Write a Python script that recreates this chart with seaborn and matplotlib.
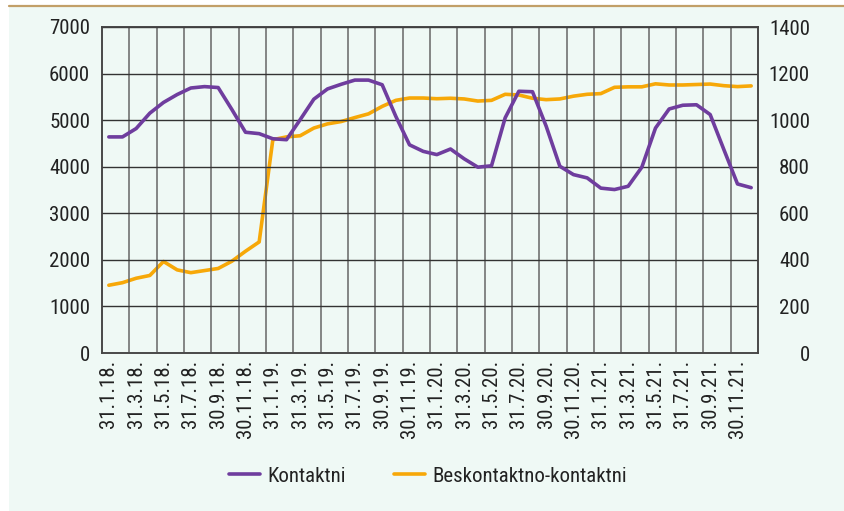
import matplotlib
matplotlib.use("Agg")
import matplotlib.pyplot as plt
import seaborn as sns
import numpy as np
import pandas as pd
from matplotlib.lines import Line2D

# ---------------- data ----------------
months = [f"{m}.{y}" for y in (18, 19, 20, 21) for m in range(1, 13)]
tick_labels = [f"{d}.{m}.{y}." for y in (18, 19, 20, 21)
               for d, m in ((31, 1), (31, 3), (31, 5), (31, 7), (30, 9), (30, 11))]

kontaktni = [4640, 4640, 4820, 5150, 5380, 5550, 5690, 5720, 5700, 5230, 4740, 4710,
             4600, 4580, 5010, 5450, 5670, 5770, 5860, 5860, 5760, 5080, 4470, 4330,
             4260, 4380, 4170, 3990, 4020, 5050, 5620, 5610, 4870, 4010, 3830, 3760,
             3540, 3510, 3580, 3990, 4830, 5240, 5320, 5330, 5120, 4370, 3630, 3550]

beskontaktno = [291, 302, 321, 333, 393, 357, 345, 354, 363, 394, 437, 477,
                916, 928, 933, 966, 984, 994, 1011, 1027, 1059, 1085, 1095, 1095,
                1092, 1094, 1091, 1082, 1085, 1111, 1108, 1094, 1088, 1091, 1103, 1111,
                1114, 1141, 1143, 1143, 1156, 1151, 1151, 1153, 1155, 1148, 1144, 1147]

series_names = ["Kontaktni", "Beskontaktno-kontaktni"]
colors = ["#6f3d9e", "#f7a808"]

df = pd.DataFrame({"idx": np.arange(len(months)), "month": months,
                   "k": kontaktni, "b": beskontaktno})

# ---------------- style ----------------
sns.set_theme(style="white")
bg = "#eff9f5"
plt.rcParams["font.family"] = ["Roboto Condensed", "Archivo Narrow", "Liberation Sans", "DejaVu Sans"]
FS = 15
txt = "#222222"

fig = plt.figure(figsize=(8.45, 5.11), dpi=100)
fig.patch.set_facecolor("white")
# mint panel + tan top rule
fig.patches.append(plt.Rectangle((9 / 845, 0), 1 - 9 / 845, 1 - 7 / 511,
                                 transform=fig.transFigure, facecolor=bg,
                                 edgecolor="none", zorder=-10))
fig.lines.append(Line2D([9 / 845, 1], [1 - 6 / 511, 1 - 6 / 511],
                        transform=fig.transFigure, color="#c29f68", lw=1.6))

ax = fig.add_axes([102 / 845, 1 - 353 / 511, 656 / 845, 326 / 511])
ax.set_facecolor(bg)
ax2 = ax.twinx()

sns.lineplot(data=df, x="idx", y="k", ax=ax, color=colors[0], lw=2.6, zorder=3)
sns.lineplot(data=df, x="idx", y="b", ax=ax2, color=colors[1], lw=2.6, zorder=3)

n = len(months)
ax.set_xlim(-0.5, n - 0.5)
ax.set_ylim(0, 7000)
ax2.set_ylim(0, 1400)
ax.set_yticks(np.arange(0, 7001, 1000))
ax2.set_yticks(np.arange(0, 1401, 200))

# vertical grid at category boundaries (every 2 months)
for xb in np.arange(-0.5, n - 0.5, 2):
    ax.axvline(xb, color="#666666", lw=1.1, zorder=1)
for yv in np.arange(1000, 7001, 1000):
    ax.axhline(yv, color="#333333", lw=1.0, zorder=1)

ax.set_xticks(np.arange(0, n, 2))
ax.set_xticklabels(tick_labels, rotation=90, fontsize=FS, color=txt)
ax.tick_params(axis="x", length=0, pad=5)
ax.tick_params(axis="y", length=0, pad=8.6, labelsize=FS, labelcolor=txt)
ax2.tick_params(axis="y", length=0, pad=37.4, labelsize=FS, labelcolor=txt)
for lab in ax2.get_yticklabels():
    lab.set_horizontalalignment("right")
ax.set_xlabel("")
ax.set_ylabel("")
ax2.set_ylabel("")

for a in (ax, ax2):
    for s in a.spines.values():
        s.set_color("#444444")
        s.set_linewidth(1.1)
ax2.spines["top"].set_color("#333333")

ax.set_zorder(ax2.get_zorder() + 1)
ax.patch.set_visible(False)
ax2.set_facecolor(bg)

handles = [Line2D([], [], color=c, lw=2.6) for c in colors]
fig.legend(handles, series_names, loc="center", ncol=2, frameon=False,
           bbox_to_anchor=(428 / 845, 1 - 476 / 511), fontsize=FS,
           handlelength=1.5, handletextpad=0.35, columnspacing=2.3,
           labelcolor=txt)

fig.savefig("out.png", dpi=100, facecolor=fig.get_facecolor())
